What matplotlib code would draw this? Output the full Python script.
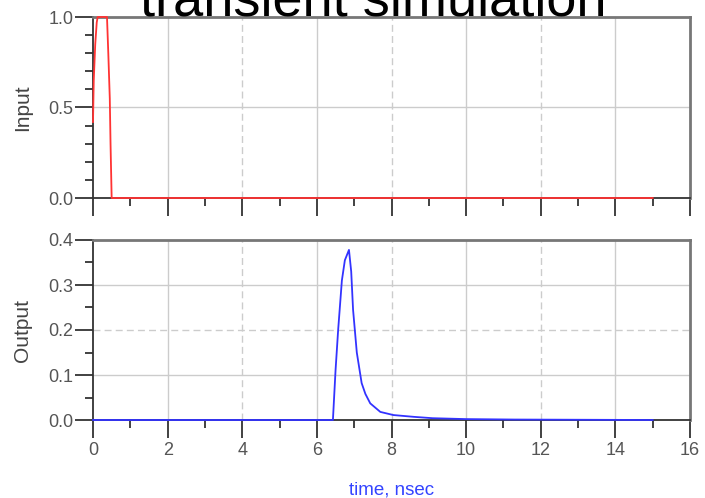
import matplotlib.pyplot as plt
from matplotlib.ticker import MultipleLocator

# input pulse (time in nsec)
t_in = [0.0, 0.02, 0.06, 0.1, 0.125, 0.375, 0.41, 0.45, 0.47, 0.5, 15.0]
v_in = [0.42, 0.65, 0.85, 0.97, 1.0, 1.0, 0.8, 0.55, 0.3, 0.0, 0.0]

# output response
t_out = [0.0, 6.43, 6.5, 6.57, 6.67, 6.75, 6.86, 6.92, 6.97, 7.07, 7.2, 7.3, 7.43,
         7.7, 8.05, 8.6, 9.1, 10.0, 11.3, 15.0]
v_out = [0.0, 0.0, 0.11, 0.2, 0.31, 0.355, 0.378, 0.33, 0.245, 0.15, 0.082, 0.058,
         0.037, 0.018, 0.011, 0.007, 0.004, 0.002, 0.001, 0.0]

xticks = [0, 2, 4, 6, 8, 10, 12, 14, 16]

plt.rcParams['font.family'] = ['Liberation Sans', 'DejaVu Sans']
tick_color = '#555555'

fig = plt.figure(figsize=(7.05, 4.98), dpi=100)
ax1 = fig.add_axes([93 / 705, 1 - 198 / 498, 597 / 705, 181 / 498])
ax2 = fig.add_axes([93 / 705, 1 - 420 / 498, 597 / 705, 180 / 498])


def style(ax, ymax, ymajor, yminor):
    ax.set_xlim(0, 16)
    ax.set_ylim(0, ymax)
    ax.xaxis.set_major_locator(MultipleLocator(2))
    ax.xaxis.set_minor_locator(MultipleLocator(1))
    ax.yaxis.set_major_locator(MultipleLocator(ymajor))
    ax.yaxis.set_minor_locator(MultipleLocator(yminor))
    ax.tick_params(which='major', direction='out', length=13, width=1.3,
                   color='#333333', labelcolor=tick_color, labelsize=13)
    ax.tick_params(which='minor', direction='out', length=6, width=1.3,
                   color='#333333')
    ax.tick_params(axis='x', which='major', pad=3)
    ax.tick_params(axis='y', which='major', pad=1)
    for s in ['top', 'right']:
        ax.spines[s].set_color('#777777')
        ax.spines[s].set_linewidth(2)
    for s in ['left', 'bottom']:
        ax.spines[s].set_color('#333333')
        ax.spines[s].set_linewidth(1.3)
    ax.yaxis.set_major_formatter(plt.FormatStrFormatter('%.1f'))
    # grid, alternating solid / dashed like the original
    for i, x in enumerate(range(2, 16, 2)):
        ax.axvline(x, color='#cccccc', lw=1, ls='-' if i % 2 == 0 else (0, (5, 3)), zorder=0)


style(ax1, 1.0, 0.5, 0.1)
ax1.axhline(0.5, color='#cccccc', lw=1, ls='-', zorder=0)
ax1.tick_params(axis='x', labelbottom=False)
ax1.plot(t_in, v_in, color='#ff3333', lw=1.3, zorder=3, clip_on=False)
ax1.set_ylabel('Input', color='#444444', fontsize=15, labelpad=12)

style(ax2, 0.4, 0.1, 0.05)
for i, y in enumerate([0.1, 0.2, 0.3]):
    ax2.axhline(y, color='#cccccc', lw=1, ls='-' if i % 2 == 0 else (0, (5, 3)), zorder=0)
ax2.set_xticks(xticks)
ax2.plot(t_out, v_out, color='#3333ff', lw=1.3, zorder=3, clip_on=False)
ax2.set_ylabel('Output', color='#444444', fontsize=15, labelpad=12)
ax2.set_xlabel('time, nsec', color='#3344ff', fontsize=13.5, labelpad=16)

fig.text(0.53, 1 - 16 / 498, 'transient simulation', fontsize=39,
         ha='center', va='baseline', color='black')

fig.savefig('out.png', dpi=100)
